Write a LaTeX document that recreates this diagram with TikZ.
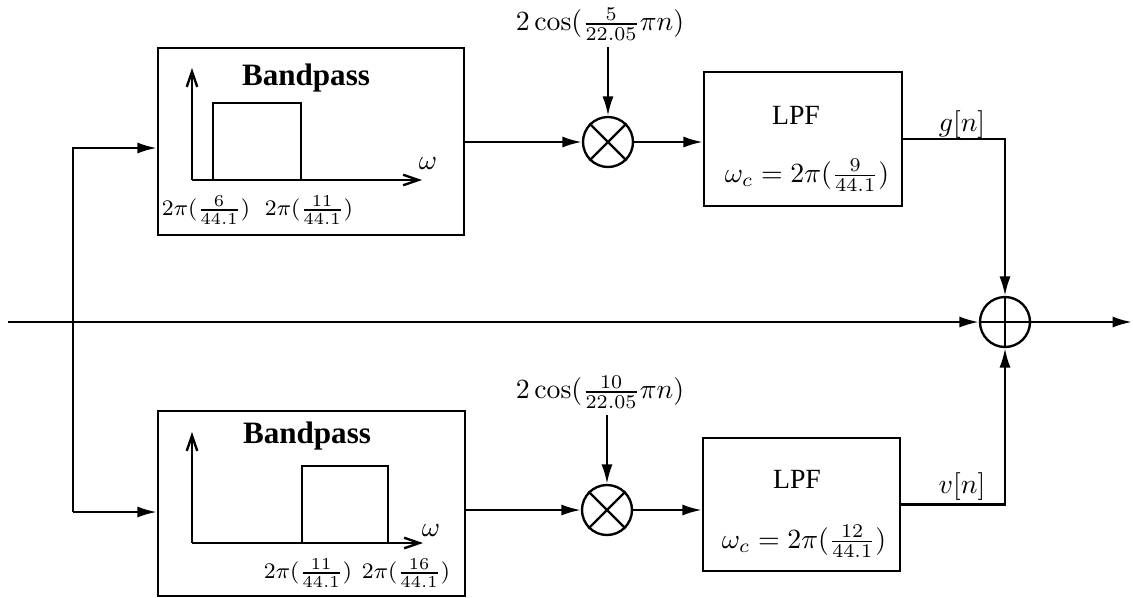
\documentclass[tikz,border=0pt]{standalone}
\usepackage[no-math]{fontspec}
\newfontfamily\tms{Liberation Serif}
\usetikzlibrary{arrows.meta,fit}
\begin{document}
\begin{tikzpicture}[x=0.36pt,y=-0.36pt,
  line width=0.85pt,
  arr/.style={-{Latex[length=7pt,width=4pt]}},
  axisarr/.style={-{Straight Barb[length=5.5pt,width=3.8pt]}},
  blk/.style={draw, inner sep=0pt},
  op/.style={draw, circle, minimum size=18pt, inner sep=0pt},
  lbl/.style={inner sep=2pt},
  ttl/.style={font=\tms\bfseries\fontsize{11.2}{13}\selectfont, anchor=base, inner sep=0pt},
  lpft/.style={font=\tms\fontsize{10}{12}\selectfont, anchor=base, inner sep=0pt},
  mth/.style={anchor=base, inner sep=0pt},
  small/.style={font=\footnotesize, inner sep=0pt}]
\useasboundingbox (0,0) rectangle (1133,597);

% blocks
\node[blk, fit={(158,48) (464,235)}] (bp1) {};
\node[blk, fit={(158,411) (465,596)}] (bp2) {};
\node[blk, fit={(704,72) (902,206)}] (lpf1) {};
\node[blk, fit={(703,438) (900,571)}] (lpf2) {};
\node[op] (mix1) at (608,142) {};
\node[op] (mix2) at (607,510) {};
\node[op] (sum) at (1005,322) {};
\draw (mix1.north west) -- (mix1.south east) (mix1.north east) -- (mix1.south west);
\draw (mix2.north west) -- (mix2.south east) (mix2.north east) -- (mix2.south west);
\draw (sum.north) -- (sum.south) (sum.west) -- (sum.east);

% block texts
\node[ttl] (t1) at (306,85) {Bandpass};
\node[ttl] (t2) at (307,443) {Bandpass};
\node[lpft] (l1) at (796,124) {LPF};
\node[lpft] (l2) at (797,488) {LPF};
\node[mth] (w1) at (807,182) {$\omega_c=2\pi(\frac{9}{44.1})$};
\node[mth] (w2) at (804,548) {$\omega_c=2\pi(\frac{12}{44.1})$};

% bandpass sketches
\draw[axisarr] (192,180) -- (192,68);
\draw[axisarr] (192,180) -- (422,180);
\draw (213,180) -- (213,103) -- (301,103) -- (301,180);
\node[inner sep=0pt] (om1) at (428,164) {$\omega$};
\node[small] (a1) at (206,210) {$2\pi(\frac{6}{44.1})$};
\node[small] (b1) at (309,210) {$2\pi(\frac{11}{44.1})$};

\draw[axisarr] (192,543) -- (192,432);
\draw[axisarr] (192,543) -- (423,543);
\draw (302,543) -- (302,466) -- (388,466) -- (388,543);
\node[inner sep=0pt] (om2) at (431,531) {$\omega$};
\node[small] (a2) at (308,573) {$2\pi(\frac{11}{44.1})$};
\node[small] (b2) at (406,573) {$2\pi(\frac{16}{44.1})$};

% oscillator labels
\node[lbl] (c1) at (600,24) {$2\cos(\frac{5}{22.05}\pi n)$};
\node[lbl] (c2) at (600,392) {$2\cos(\frac{10}{22.05}\pi n)$};
\draw[arr] (c1.south -| mix1) -- (mix1.north);
\draw[arr] (c2.south -| mix2) -- (mix2.north);

% input and branches
\coordinate (in) at (8,322);
\coordinate (out) at (1132,322);
\coordinate (bt) at (73,148);
\coordinate (bb) at (73,512);
\draw[arr] (in) -- (sum.west);
\draw[arr] (sum.east) -- (out);
\draw[arr] (bb) -- (bt) -- (bp1.west |- bt);
\draw[arr] (bb) -- (bp2.west |- bb);

% signal path
\draw[arr] (bp1.east |- mix1) -- (mix1.west);
\draw[arr] (mix1.east) -- (lpf1.west |- mix1);
\draw[arr] (bp2.east |- mix2) -- (mix2.west);
\draw[arr] (mix2.east) -- (lpf2.west |- mix2);
\draw[arr] (lpf1.east) -| (sum.north);
\draw[arr] (lpf2.east) -| (sum.south);
\node[inner sep=0pt] (g) at (962,125) {$g[n]$};
\node[inner sep=0pt] (v) at (962,487) {$v[n]$};
\end{tikzpicture}
\end{document}
